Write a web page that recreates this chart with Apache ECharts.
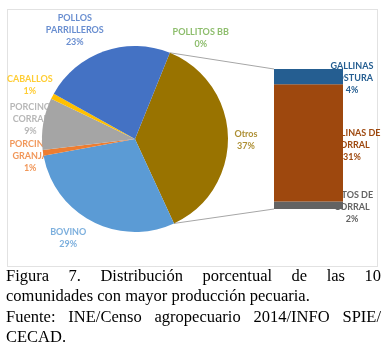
<!DOCTYPE html>
<html>
<head>
<meta charset="utf-8">
<script src="https://cdn.jsdelivr.net/npm/echarts@6/dist/echarts.min.js"></script>
<style>
  html, body { margin: 0; padding: 0; background: #fff; }
  body { position: relative; width: 388px; height: 351px; overflow: hidden; }
  #chart { position: absolute; left: 0; top: 0; width: 388px; height: 270px; }
  #caption {
    position: absolute; left: 6px; top: 266px; width: 375px;
    font-family: "Liberation Serif", "Times New Roman", serif;
    font-size: 16.5px; line-height: 20.3px; color: #000; white-space: nowrap;
  }
  #caption .j { text-align: justify; text-align-last: justify; }
</style>
</head>
<body>
<div id="chart"></div>
<div id="caption">
  <div class="j">Figura 7. Distribución porcentual de las 10</div>
  <div>comunidades con mayor producción pecuaria.</div>
  <div class="j">Fuente: INE/Censo agropecuario 2014/INFO SPIE/</div>
  <div>CECAD.</div>
</div>
<script>
// pie slices (clockwise from "Otros")
var pieNames = ['Otros', 'BOVINO', 'PORCINO\nGRANJA', 'PORCINO\nCORRAL', 'CABALLOS', 'POLLOS\nPARRILLEROS', 'POLLITOS BB'];
var pieValues = [37, 29, 1, 9, 1, 23, 0];
var pieColors = ['#997300', '#5B9BD5', '#ED7D31', '#A5A5A5', '#FFC000', '#4472C4', '#70AD47'];

// breakdown of "Otros" (bottom to top)
var barNames = ['PATOS DE\nCORRAL', 'GALLINAS DE\nCORRAL', 'GALLINAS\nPOSTURA'];
var barValues = [2, 31, 4];
var barColors = ['#636363', '#9E480E', '#255E91'];

var cx = 135, cy = 139, R = 93, startAng = 68, labelR = 106;
var gridLeft = 274, gridRight = 45, gridTop = 69, gridBottom = 61;
var labelFont = 'Lato, "Open Sans", sans-serif';
// nudges for labels that excel placed off the plain radial spot
var labelNudge = [[5, 4], [-18, 5], [0, 1], [0, -3], [-11, -5], [-25, -9], [26, -3]];

var chart = echarts.init(document.getElementById('chart'));

var total = barValues.reduce(function (a, b) { return a + b; }, 0);
var pieTotal = pieValues.reduce(function (a, b) { return a + b; }, 0);

var pieData = pieNames.map(function (n, i) {
  return { name: n, value: pieValues[i], itemStyle: { color: pieColors[i] } };
});
// label anchors: middle of every slice, on the polar angle axis
var cum = 0;
var labelData = pieNames.map(function (n, i) {
  var mid = cum + pieValues[i] / 2;
  cum += pieValues[i];
  return { name: n, value: [1, mid], pct: Math.round(pieValues[i] / pieTotal * 100),
    label: { color: pieColors[i], offset: labelNudge[i] } };
});

var series = [
  {
    type: 'scatter', coordinateSystem: 'polar', z: 1, silent: true, animation: false,
    symbolSize: 1, itemStyle: { color: 'rgba(0,0,0,0)' },
    label: { show: true, position: 'inside', align: 'center', verticalAlign: 'middle',
      formatter: function (p) { return p.name + '\n' + p.data.pct + '%'; },
      fontFamily: labelFont, fontWeight: 'bold', fontSize: 9, lineHeight: 12 },
    emphasis: { disabled: true },
    data: labelData
  },
  {
    type: 'pie', z: 3, center: [cx, cy], radius: R, startAngle: startAng,
    animation: false, label: { show: false }, labelLine: { show: false },
    itemStyle: { borderWidth: 0 },
    data: pieData
  }
];

barNames.forEach(function (n, i) {
  // label holder underneath
  series.push({
    type: 'bar', name: n + '_lab', stack: 'lab', z: 1, silent: true,
    barWidth: '100%', animation: false,
    itemStyle: { color: 'rgba(0,0,0,0)' },
    label: { show: true, position: ['113%', '50%'], align: 'center', verticalAlign: 'middle',
      offset: [0, 2],
      formatter: function (p) { return n + '\n' + p.value + '%'; },
      color: barColors[i], fontFamily: labelFont, fontWeight: 'bold', fontSize: 9, lineHeight: 12 },
    data: [barValues[i]]
  });
});
barNames.forEach(function (n, i) {
  series.push({
    type: 'bar', name: n, stack: 'vis', z: 3, barWidth: '100%', barGap: '-100%',
    animation: false, itemStyle: { color: barColors[i] },
    data: [barValues[i]]
  });
});

chart.setOption({
  animation: false,
  polar: { center: [cx, cy], radius: labelR },
  angleAxis: { type: 'value', min: 0, max: pieTotal, startAngle: startAng, clockwise: true, show: false },
  radiusAxis: { type: 'value', min: 0, max: 1, show: false },
  grid: { left: gridLeft, right: gridRight, top: gridTop, bottom: gridBottom },
  xAxis: { type: 'category', data: ['Otros'], show: false },
  yAxis: { type: 'value', min: 0, max: total, show: false },
  series: series
});

// border + connector lines
var a0 = startAng * Math.PI / 180;
var a1 = (startAng - 360 * pieValues[0] / pieTotal) * Math.PI / 180;
var yTop = chart.convertToPixel({ yAxisIndex: 0 }, total);
var yBot = chart.convertToPixel({ yAxisIndex: 0 }, 0);
chart.setOption({
  graphic: [
    { type: 'rect', shape: { x: 7.5, y: 9.5, width: 370, height: 257 },
      style: { fill: 'none', stroke: '#c4c4c4', lineWidth: 1, lineDash: [1, 1] }, z: 0, silent: true },
    { type: 'line', shape: { x1: cx + R * Math.cos(a0), y1: cy - R * Math.sin(a0), x2: gridLeft, y2: yTop },
      style: { stroke: '#a6a6a6', lineWidth: 1 }, z: 2, silent: true },
    { type: 'line', shape: { x1: cx + R * Math.cos(a1), y1: cy - R * Math.sin(a1), x2: gridLeft, y2: yBot },
      style: { stroke: '#a6a6a6', lineWidth: 1 }, z: 2, silent: true }
  ]
});
</script>
</body>
</html>
